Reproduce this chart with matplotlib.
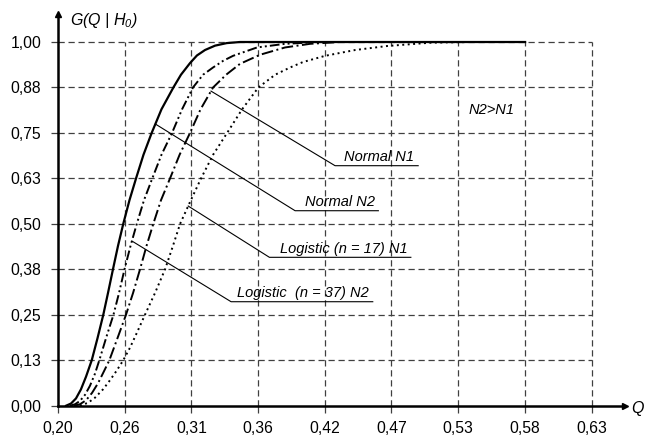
import numpy as np
import matplotlib
matplotlib.use("Agg")
import matplotlib.pyplot as plt

plt.rcParams['font.family'] = ['Liberation Sans', 'DejaVu Sans']
plt.rcParams['mathtext.fontset'] = 'custom'
plt.rcParams['mathtext.it'] = 'Liberation Sans:italic'
plt.rcParams['mathtext.rm'] = 'Liberation Sans:italic'

# tick labels as printed on the chart
x_tick_labels = ["0,20", "0,26", "0,31", "0,36", "0,42", "0,47", "0,53", "0,58", "0,63"]
y_tick_labels = ["0,00", "0,13", "0,25", "0,38", "0,50", "0,63", "0,75", "0,88", "1,00"]

# curves (Q, G)
normal_n2_q = [0.2065, 0.2105, 0.2145, 0.2185, 0.2226, 0.2272, 0.2318, 0.2365, 0.2403,
               0.2443, 0.2484, 0.2526, 0.2576, 0.2629, 0.2689, 0.2755, 0.2834, 0.2930,
               0.2991, 0.3064, 0.3120, 0.3185, 0.3266, 0.3360, 0.3467, 0.5765]
normal_n2_g = [0.0, 0.006, 0.02, 0.045, 0.08, 0.125, 0.185, 0.25, 0.31,
               0.375, 0.44, 0.5, 0.565, 0.625, 0.69, 0.75, 0.815, 0.875,
               0.91, 0.942, 0.963, 0.978, 0.99, 0.997, 1.0, 1.0]

logistic37_n2_q = [0.2097, 0.2137, 0.2177, 0.2218, 0.2258, 0.2298, 0.2333, 0.2391, 0.2447,
                   0.2492, 0.2536, 0.2585, 0.2635, 0.2693, 0.2760, 0.2834, 0.2919, 0.3000,
                   0.3088, 0.3169, 0.3250, 0.3330, 0.3411, 0.3604, 0.3830, 0.4112, 0.5765]
logistic37_n2_g = [0.0, 0.004, 0.013, 0.03, 0.055, 0.088, 0.125, 0.19, 0.25,
                   0.31, 0.375, 0.44, 0.5, 0.565, 0.625, 0.69, 0.75, 0.815,
                   0.875, 0.91, 0.93, 0.948, 0.962, 0.985, 0.995, 1.0, 1.0]

normal_n1_q = [0.2129, 0.2177, 0.2226, 0.2274, 0.2323, 0.2371, 0.2414, 0.2484, 0.2548,
               0.2605, 0.2661, 0.2714, 0.2768, 0.2830, 0.2903, 0.2980, 0.3064, 0.3149,
               0.3250, 0.3355, 0.3467, 0.3629, 0.3830, 0.4032, 0.4274, 0.5765]
normal_n1_g = [0.0, 0.004, 0.015, 0.035, 0.062, 0.095, 0.125, 0.19, 0.25,
               0.31, 0.375, 0.44, 0.5, 0.565, 0.625, 0.69, 0.75, 0.815,
               0.875, 0.91, 0.94, 0.965, 0.985, 0.995, 1.0, 1.0]

logistic17_n1_q = [0.2177, 0.2242, 0.2298, 0.2363, 0.2419, 0.2472, 0.2526, 0.2581, 0.2635,
                   0.2701, 0.2782, 0.2863, 0.2927, 0.2984, 0.3064, 0.3153, 0.3250, 0.3363,
                   0.3484, 0.3615, 0.3750, 0.3871, 0.3975, 0.4153, 0.4395, 0.4653, 0.4999,
                   0.5322, 0.5765]
logistic17_n1_g = [0.0, 0.008, 0.022, 0.045, 0.07, 0.096, 0.125, 0.16, 0.2,
                   0.25, 0.31, 0.375, 0.44, 0.5, 0.56, 0.625, 0.69, 0.75,
                   0.815, 0.875, 0.91, 0.93, 0.945, 0.962, 0.978, 0.989, 0.998,
                   1.0, 1.0]

x_ticks = np.linspace(0.2, 0.63, 9)
y_ticks = np.linspace(0.0, 1.0, 9)

fig = plt.figure(figsize=(6.45, 4.36), dpi=100)
ax = fig.add_axes([58 / 645, 1 - 405.7 / 436, (625 - 58) / 645, (405.7 - 14) / 436])
ax.set_xlim(0.2, 0.657)
ax.set_ylim(0, 1.077)

# dashed grid, only inside the 0.20..0.63 x 0..1 box
grid_style = dict(color='0.25', lw=0.9, linestyle=(0, (5, 3)), zorder=1)
for yv in y_ticks[1:]:
    ax.plot([0.2, 0.63], [yv, yv], **grid_style)
for xv in x_ticks[1:]:
    ax.plot([xv, xv], [0, 1.0], **grid_style)

lw = 1.4
ax.plot(normal_n2_q, normal_n2_g, color='black', lw=1.6, zorder=3)
ax.plot(logistic37_n2_q, logistic37_n2_g, color='black', lw=lw,
        linestyle=(0, (5, 1.6, 1, 1.6, 1, 1.6)), zorder=3)
ax.plot(normal_n1_q, normal_n1_g, color='black', lw=lw,
        linestyle=(0, (6, 1.8, 1, 1.8)), zorder=3)
ax.plot(logistic17_n1_q, logistic17_n1_g, color='black', lw=lw,
        linestyle=(0, (1, 1.8)), zorder=3)

# leader lines with underlined labels
labels = [
    ("Normal N1", normal_n1_q, normal_n1_g, 0.865, 0.4233, 0.6599, 0.4903),
    ("Normal N2", normal_n2_q, normal_n2_g, 0.7745, 0.3911, 0.5361, 0.4582),
    ("Logistic (n = 17) N1", logistic17_n1_q, logistic17_n1_g, 0.549, 0.3704, 0.4080, 0.4844),
    ("Logistic  (n = 37) N2", logistic37_n2_q, logistic37_n2_g, 0.4528, 0.3395, 0.2859, 0.4537),
]
for text, cq, cg, g0, qc, gc, qe in labels:
    q0 = np.interp(g0, cg[:-1], cq[:-1])
    ax.plot([q0, qc, qe], [g0, gc, gc], color='black', lw=0.8, zorder=4)
    ax.text(qe - 0.003, gc + 0.012, text, ha='right', va='baseline',
            fontsize=10.5, style='italic', zorder=5)

ax.text(0.5495, 0.813, "N2>N1", ha='center', va='center', fontsize=10.5, style='italic')

# axes with arrows
for s in ['top', 'right']:
    ax.spines[s].set_visible(False)
ax.spines['left'].set_linewidth(1.8)
ax.spines['bottom'].set_linewidth(1.8)
ax.plot(1, 0, '>k', markersize=5, transform=ax.get_yaxis_transform(), clip_on=False)
ax.plot(0.2, 1, '^k', markersize=5, transform=ax.get_xaxis_transform(), clip_on=False)

ax.set_xticks(x_ticks)
ax.set_xticklabels(x_tick_labels)
ax.set_yticks(y_ticks)
ax.set_yticklabels(y_tick_labels)
ax.tick_params(axis='both', length=5, width=0.9, color='0.25', labelsize=11.3)
ax.tick_params(axis='y', pad=7)
ax.tick_params(axis='x', pad=6)

fig.text(70 / 645, 1 - 20 / 436, r'$G(Q\ |\ H_{0})$', fontsize=11.5, va='center', ha='left')
fig.text(631 / 645, 1 - 408 / 436, 'Q', fontsize=11.5, style='italic', va='center', ha='left')

fig.savefig("out.png", dpi=100)
